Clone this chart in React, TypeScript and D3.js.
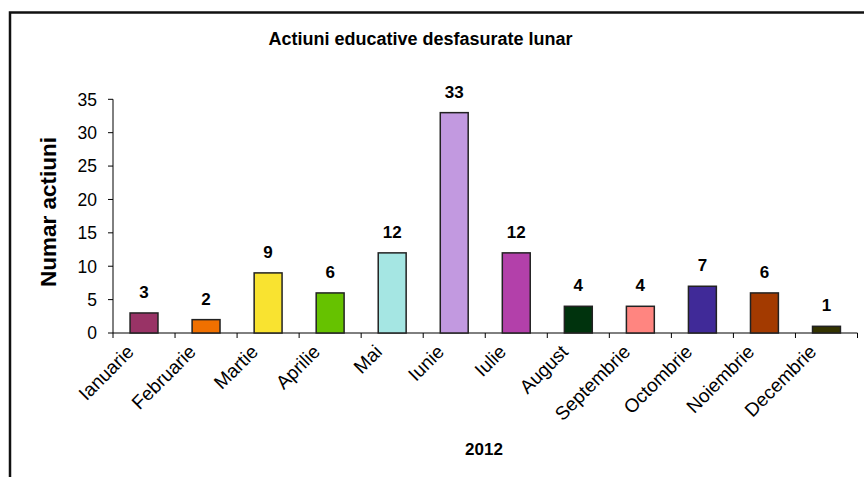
import React from "react";
import * as d3 from "d3";

const months = ["Ianuarie","Februarie","Martie","Aprilie","Mai","Iunie","Iulie","August","Septembrie","Octombrie","Noiembrie","Decembrie"];
const values = [3, 2, 9, 6, 12, 33, 12, 4, 4, 7, 6, 1];
const colors = ["#993366","#F07000","#F9E330","#66C200","#A5E6E3","#C299E0","#B340AA","#00330D","#FF8580","#402A98","#A33A00","#333300"];
const yTicks = [0, 5, 10, 15, 20, 25, 30, 35];
const title = "Actiuni educative desfasurate lunar";
const yTitle = "Numar actiuni";
const xTitle = "2012";

export default function App() {
  const W = 864, H = 477;
  const left = 113, right = 857.5, top = 99.3, bottom = 333;
  const x = d3.scaleBand<string>().domain(months).range([left, right]).paddingInner(0.55).paddingOuter(0.275);
  const y = d3.scaleLinear().domain([0, 35]).range([bottom, top]);
  const band = (right - left) / months.length;
  const font = "Arial, 'Liberation Sans', sans-serif";
  return (
    <svg width={W} height={H} style={{ position: "absolute", left: 0, top: 0, background: "#fff" }} fontFamily={font}>
      <rect x={10} y={12.5} width={900} height={500} fill="none" stroke="#111" strokeWidth={2.5} />
      <text x={420.5} y={45} textAnchor="middle" fontSize={18} fontWeight="bold">{title}</text>
      <text transform={`translate(56,212) rotate(-90)`} textAnchor="middle" fontSize={22.5} fontWeight="bold">{yTitle}</text>
      <text x={484} y={455} textAnchor="middle" fontSize={17} fontWeight="bold">{xTitle}</text>
      {/* y axis */}
      <line x1={left} x2={left} y1={top} y2={bottom} stroke="#000" />
      {yTicks.map(t => (
        <g key={t}>
          <line x1={left - 5} x2={left} y1={y(t)} y2={y(t)} stroke="#000" />
          <text x={97} y={y(t)} dy="0.36em" textAnchor="end" fontSize={17.5}>{t}</text>
        </g>
      ))}
      {/* x axis */}
      <line x1={left} x2={right} y1={bottom} y2={bottom} stroke="#000" />
      {d3.range(months.length + 1).map(i => (
        <line key={i} x1={left + i * band} x2={left + i * band} y1={bottom} y2={bottom + 5} stroke="#000" />
      ))}
      {months.map((m, i) => {
        const cx = (x(m) as number) + x.bandwidth() / 2;
        return (
          <g key={m}>
            <rect x={x(m)} y={y(values[i])} width={x.bandwidth()} height={bottom - y(values[i])} fill={colors[i]} stroke="#222" strokeWidth={1.5} />
            <text x={cx} y={y(values[i]) - 15} textAnchor="middle" fontSize={17} fontWeight="bold">{values[i]}</text>
            <text transform={`translate(${cx - 9},${bottom + 20}) rotate(-45)`} textAnchor="end" fontSize={19}>{m}</text>
          </g>
        );
      })}
    </svg>
  );
}
